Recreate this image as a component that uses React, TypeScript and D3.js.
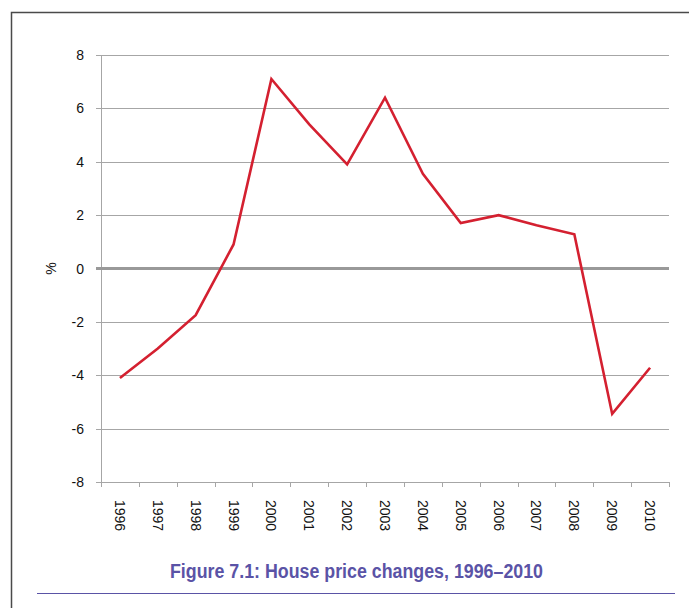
import { useEffect, useRef } from 'react';
import * as d3 from 'd3';

const WIDTH = 689;
const HEIGHT = 608;
const PLOT = { left: 101, right: 669, top: 55, bottom: 482 };

const YEARS = ['1996', '1997', '1998', '1999', '2000', '2001', '2002', '2003', '2004', '2005', '2006', '2007', '2008', '2009', '2010'];
const CHANGES = [-4.1, -3.0, -1.75, 0.9, 7.1, 5.4, 3.9, 6.4, 3.55, 1.7, 2.0, 1.62, 1.28, -5.45, -3.72];
const Y_TICKS = [-8, -6, -4, -2, 0, 2, 4, 6, 8];
const TITLE = 'Figure 7.1: House price changes, 1996–2010';

const FONT = 'Liberation Sans, Arial, sans-serif';
const PURPLE = '#5a53a6';

export default function App() {
  const svgRef = useRef<SVGSVGElement | null>(null);

  useEffect(() => {
    const svgEl = svgRef.current;
    if (!svgEl) return;
    const svg = d3.select(svgEl);
    svg.selectAll('*').remove();

    const x = d3.scaleBand<string>().domain(YEARS).range([PLOT.left, PLOT.right]);
    const y = d3.scaleLinear().domain([-8, 8]).range([PLOT.bottom, PLOT.top]);

    // ---- frame ----
    svg
      .append('path')
      .attr('d', `M11.5,${HEIGHT} V12.5 H${WIDTH}`)
      .attr('fill', 'none')
      .attr('stroke', '#4a4a4a')
      .attr('stroke-width', 1.5);

    // ---- grid ----
    svg
      .append('g')
      .selectAll('line')
      .data(Y_TICKS.filter((d) => d !== 0))
      .join('line')
      .attr('x1', PLOT.left - 5)
      .attr('x2', PLOT.right)
      .attr('y1', (d) => Math.round(y(d)) + 0.5)
      .attr('y2', (d) => Math.round(y(d)) + 0.5)
      .attr('stroke', '#a6a6a6')
      .attr('stroke-width', 1);

    // y axis line
    svg
      .append('line')
      .attr('x1', PLOT.left + 0.5)
      .attr('x2', PLOT.left + 0.5)
      .attr('y1', PLOT.top)
      .attr('y2', PLOT.bottom)
      .attr('stroke', '#a6a6a6');

    // x axis ticks at band edges
    const bounds = d3.range(YEARS.length + 1).map((i) => PLOT.left + i * x.step());
    svg
      .append('g')
      .selectAll('line')
      .data(bounds)
      .join('line')
      .attr('x1', (d) => Math.round(d) + 0.5)
      .attr('x2', (d) => Math.round(d) + 0.5)
      .attr('y1', PLOT.bottom)
      .attr('y2', PLOT.bottom + 5)
      .attr('stroke', '#a6a6a6');

    // zero line
    svg
      .append('line')
      .attr('x1', PLOT.left - 5)
      .attr('x2', PLOT.right)
      .attr('y1', y(0))
      .attr('y2', y(0))
      .attr('stroke', '#999999')
      .attr('stroke-width', 3);

    // y labels
    svg
      .append('g')
      .selectAll('text')
      .data(Y_TICKS)
      .join('text')
      .attr('x', 84)
      .attr('y', (d) => y(d) + 5)
      .attr('text-anchor', 'end')
      .attr('font-family', FONT)
      .attr('font-size', 14)
      .attr('fill', '#111')
      .text((d) => `${d}`);

    svg
      .append('text')
      .attr('transform', `translate(56, ${y(0)}) rotate(-90)`)
      .attr('text-anchor', 'middle')
      .attr('font-family', FONT)
      .attr('font-size', 14)
      .attr('fill', '#111')
      .text('%');

    // x labels, rotated clockwise
    svg
      .append('g')
      .selectAll('text')
      .data(YEARS)
      .join('text')
      .attr('transform', (d) => `translate(${(x(d) ?? 0) + x.bandwidth() / 2 - 5}, 500) rotate(90)`)
      .attr('text-anchor', 'start')
      .attr('font-family', FONT)
      .attr('font-size', 14)
      .attr('fill', '#111')
      .text((d) => d);

    // ---- series line ----
    const line = d3
      .line<number>()
      .x((_, i) => (x(YEARS[i]) ?? 0) + x.bandwidth() / 2)
      .y((d) => y(d));

    svg
      .append('path')
      .datum(CHANGES)
      .attr('fill', 'none')
      .attr('stroke', '#d42030')
      .attr('stroke-width', 2.6)
      .attr('stroke-linejoin', 'miter')
      .attr('d', line);

    // ---- caption ----
    svg
      .append('text')
      .attr('x', 170)
      .attr('y', 578)
      .attr('text-anchor', 'start')
      .attr('font-family', FONT)
      .attr('font-weight', 'bold')
      .attr('font-size', 19.5)
      .attr('textLength', 373)
      .attr('lengthAdjust', 'spacingAndGlyphs')
      .attr('fill', PURPLE)
      .text(TITLE);

    svg
      .append('line')
      .attr('x1', 37)
      .attr('x2', 675)
      .attr('y1', 593.5)
      .attr('y2', 593.5)
      .attr('stroke', PURPLE)
      .attr('stroke-width', 1);
  }, []);

  return (
    <svg
      ref={svgRef}
      width={WIDTH}
      height={HEIGHT}
      viewBox={`0 0 ${WIDTH} ${HEIGHT}`}
      style={{ position: 'absolute', left: 0, top: 0, display: 'block', background: '#fff' }}
    />
  );
}
